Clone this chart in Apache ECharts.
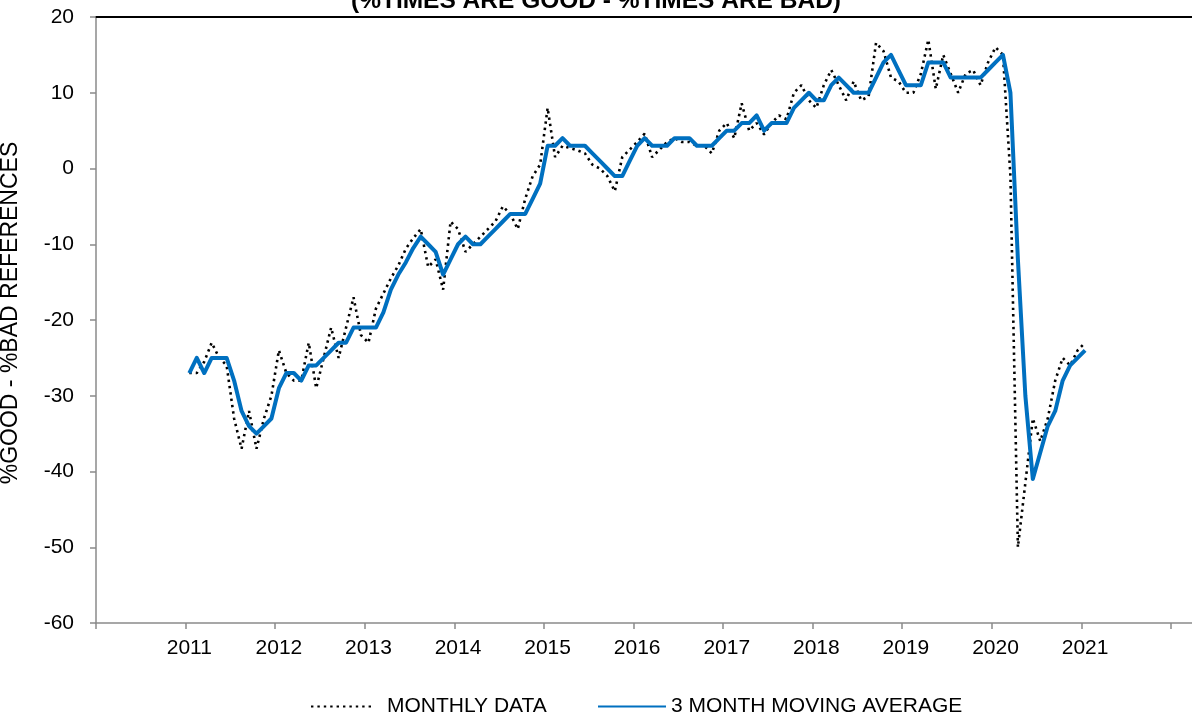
<!DOCTYPE html>
<html>
<head>
<meta charset="utf-8">
<title>Times are good - times are bad</title>
<script src="https://cdn.jsdelivr.net/npm/echarts@6/dist/echarts.min.js"></script>
<style>
  html, body { margin: 0; padding: 0; background: #fff; }
  #chart { width: 1192px; height: 717px; }
</style>
</head>
<body>
<div id="chart"></div>
<script>
// Year tick labels shown under the axis
const yearLabels = ['2011', '2012', '2013', '2014', '2015', '2016', '2017', '2018', '2019', '2020', '2021'];

// Monthly readings, Jan 2011 .. Jan 2021 (%good - %bad)
const monthly = [
  -27, -27, -25.5, -23, -25, -26, -33, -37, -32, -37, -33, -30,        // 2011
  -24, -27, -28, -28, -23, -29, -25, -21, -25, -21, -17, -22,          // 2012
  -23, -18.5, -16.5, -14.5, -12.8, -10.6, -9.2, -8, -13, -12, -16, -7, // 2013
  -8, -11, -10, -9, -8, -7, -5, -6, -8, -4, -1, 0.5,                   // 2014
  8, 1.5, 3, 2.7, 2.4, 2, 0.5, 0, -1, -3, 1.5, 2.5,                    // 2015
  3.5, 4.6, 1.5, 2.5, 3.5, 4, 3.5, 3.5, 3, 3, 2, 5,                    // 2016
  6, 4, 8.6, 5, 6, 4.5, 6, 7, 6.5, 10, 11, 9,                          // 2017
  8, 11, 13, 11, 9, 11.5, 9, 9.5, 16.6, 15.5, 12, 11.5,                // 2018
  10, 10, 12.5, 17, 10.5, 15, 12.5, 10, 12.5, 13, 11, 14,              // 2019
  16, 15, -1, -50, -41.5, -33, -36, -33, -28, -25, -26, -24,           // 2020
  -23                                                                  // 2021
];

// 3 month moving average, Jan 2011 .. Jan 2021
const movingAvg = [
  -27, -25, -27, -25, -25, -25, -28, -32, -34, -35, -34, -33,          // 2011
  -29, -27, -27, -28, -26, -26, -25, -24, -23, -23, -21, -21,          // 2012
  -21, -21, -19, -16, -14, -12.4, -10.5, -9, -10, -11, -14, -12,       // 2013
  -10, -9, -10, -10, -9, -8, -7, -6, -6, -6, -4, -2,                   // 2014
  3, 3, 4, 3, 3, 3, 2, 1, 0, -1, -1, 1,                                // 2015
  3, 4, 3, 3, 3, 4, 4, 4, 3, 3, 3, 4,                                  // 2016
  5, 5, 6, 6, 7, 5, 6, 6, 6, 8, 9, 10,                                 // 2017
  9, 9, 11, 12, 11, 10, 10, 10, 12, 14, 15, 13,                        // 2018
  11, 11, 11, 14, 14, 14, 12, 12, 12, 12, 12, 13,                      // 2019
  14, 15, 10, -12, -30, -41, -37.5, -34, -32, -28, -26, -25,           // 2020
  -24                                                                  // 2021
];

// Monthly categories: the axis runs from Jan 2010 to Dec 2022
const firstYear = 2010, lastYear = 2022, dataStartYear = 2011;
const months = [];
for (let y = firstYear; y <= lastYear; y++) {
  for (let m = 1; m <= 12; m++) months.push(y + '-' + String(m).padStart(2, '0'));
}
const lead = (dataStartYear - firstYear) * 12;
const pad = arr => new Array(lead).fill(null).concat(arr);

const FONT = '"Liberation Sans", Arial, Helvetica, sans-serif';
const AXIS_GREY = '#8a8a8a';

const chart = echarts.init(document.getElementById('chart'), null, { renderer: 'canvas' });
chart.setOption({
  animation: false,
  backgroundColor: '#ffffff',
  textStyle: { fontFamily: FONT, color: '#000' },
  title: {
    text: '(%TIMES ARE GOOD - %TIMES ARE BAD)',
    left: 'center',
    top: -16,
    textStyle: { fontFamily: FONT, fontSize: 24.5, fontWeight: 'bold', color: '#000' }
  },
  // the plot area runs past the right edge of the page, so no fitting to the container
  grid: { left: 96, top: 17, width: 1164.5, height: 606, containLabel: false, outerBoundsMode: 'none' },
  legend: [
    {
      data: ['MONTHLY DATA'],
      left: 305, top: 691,
      itemWidth: 64, itemHeight: 14,
      itemStyle: { opacity: 0 },
      textStyle: { fontFamily: FONT, fontSize: 21, color: '#000', padding: [0, 0, 0, 7] }
    },
    {
      data: ['3 MONTH MOVING AVERAGE'],
      left: 592, top: 691,
      itemWidth: 68, itemHeight: 14,
      itemStyle: { opacity: 0 },
      textStyle: { fontFamily: FONT, fontSize: 21, color: '#000' }
    }
  ],
  xAxis: [
    {
      type: 'category',
      data: months,
      boundaryGap: true,
      position: 'bottom',
      axisLine: { show: true, onZero: false, lineStyle: { color: AXIS_GREY, width: 1.5 } },
      axisTick: {
        show: true, length: 6, alignWithLabel: false,
        interval: (i) => i % 12 === 0,
        lineStyle: { color: AXIS_GREY, width: 1.5 }
      },
      axisLabel: {
        interval: (i, v) => v.endsWith('-01') && yearLabels.includes(v.slice(0, 4)),
        formatter: (v) => v.slice(0, 4),
        fontFamily: FONT, fontSize: 21, color: '#000', margin: 15
      },
      splitLine: { show: false }
    },
    {
      // plot-area top edge
      type: 'category',
      data: months,
      position: 'top',
      axisLine: { show: true, onZero: false, lineStyle: { color: '#000', width: 2 } },
      axisTick: { show: false },
      axisLabel: { show: false },
      splitLine: { show: false }
    }
  ],
  yAxis: {
    type: 'value',
    min: -60, max: 20, interval: 10,
    name: '%GOOD - %BAD REFERENCES',
    nameLocation: 'middle',
    nameRotate: 90,
    nameGap: 74,
    nameTextStyle: { fontFamily: FONT, fontSize: 23, color: '#000', padding: [0, 0, 0, 14] },
    axisLine: { show: true, lineStyle: { color: AXIS_GREY, width: 1.5 } },
    axisTick: { show: true, length: 6, lineStyle: { color: AXIS_GREY, width: 1.5 } },
    axisLabel: { fontFamily: FONT, fontSize: 21, color: '#000', margin: 22 },
    splitLine: { show: false }
  },
  series: [
    {
      name: 'MONTHLY DATA',
      type: 'line',
      data: pad(monthly),
      symbol: 'none',
      connectNulls: false,
      lineStyle: { color: '#000', width: 2.6, type: [2.4, 4] },
      itemStyle: { color: '#000' },
      z: 2
    },
    {
      name: '3 MONTH MOVING AVERAGE',
      type: 'line',
      data: pad(movingAvg),
      symbol: 'none',
      connectNulls: false,
      lineStyle: { color: '#0070C0', width: 4, join: 'round' },
      itemStyle: { color: '#0070C0' },
      z: 3
    }
  ]
});
</script>
</body>
</html>
